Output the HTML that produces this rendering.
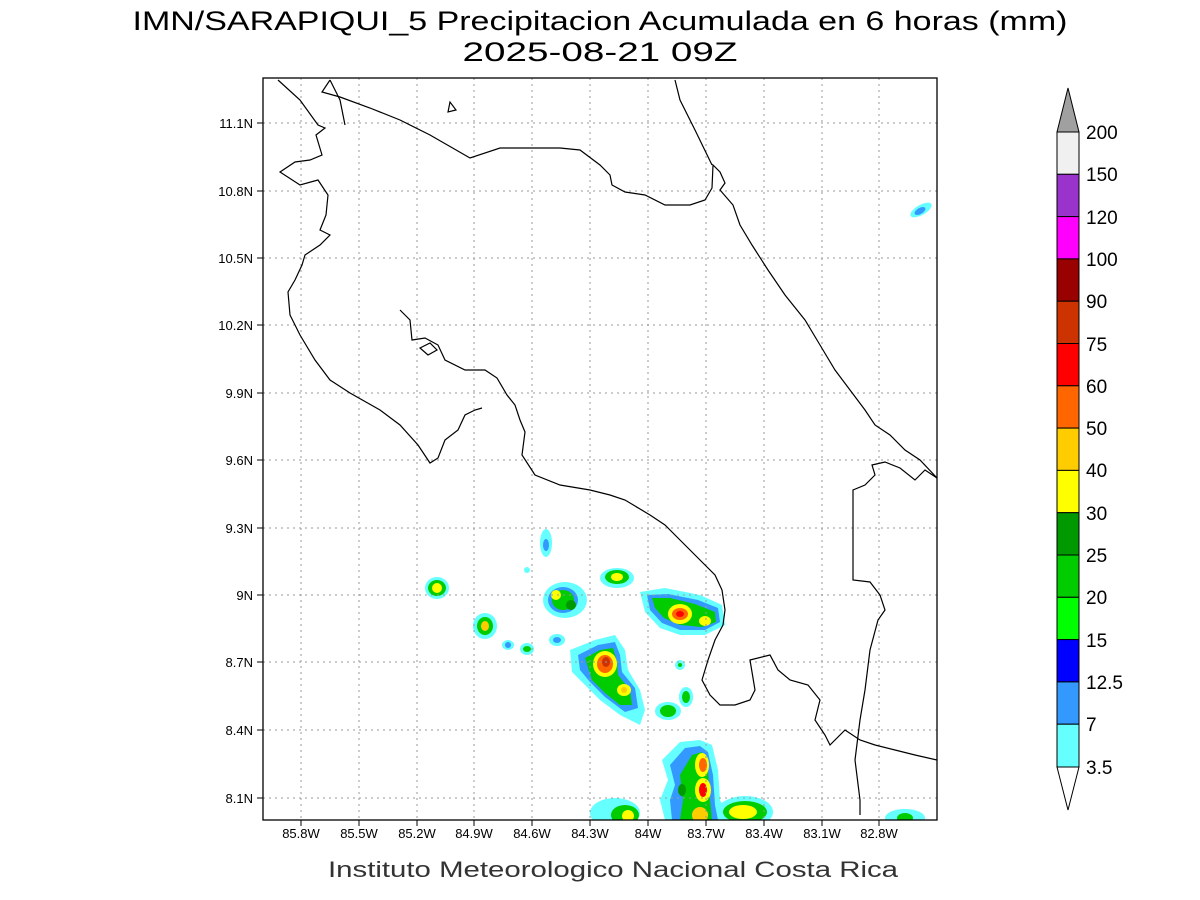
<!DOCTYPE html>
<html><head><style>
body{margin:0;background:#fff;}
svg{display:block;font-family:"Liberation Sans",sans-serif;}
</style></head><body>
<svg width="1200" height="900" viewBox="0 0 1200 900" xmlns="http://www.w3.org/2000/svg">
<rect width="1200" height="900" fill="#fff"/>
<text x="600" y="30" font-size="27" text-anchor="middle" fill="#000" textLength="935" lengthAdjust="spacingAndGlyphs">IMN/SARAPIQUI_5 Precipitacion Acumulada en 6 horas (mm)</text>
<text x="600" y="61" font-size="27" text-anchor="middle" fill="#000" textLength="275" lengthAdjust="spacingAndGlyphs">2025-08-21 09Z</text>
<defs><clipPath id="c"><rect x="263" y="78" width="674" height="742"/></clipPath></defs>
<g clip-path="url(#c)">
<g>
<ellipse cx="437" cy="588" rx="12" ry="11" fill="#66ffff"/><ellipse cx="437" cy="588" rx="9" ry="8" fill="#00cc00"/><ellipse cx="437" cy="588" rx="5" ry="5" fill="#ffff00"/>
<ellipse cx="485" cy="626" rx="12" ry="13" fill="#66ffff"/><ellipse cx="485" cy="626" rx="8" ry="9" fill="#00cc00"/><ellipse cx="485" cy="626" rx="4" ry="5" fill="#ffcc00"/>
<ellipse cx="508" cy="645" rx="6" ry="5" fill="#66ffff"/><ellipse cx="508" cy="645" rx="3" ry="3" fill="#3399ff"/>
<ellipse cx="527" cy="649" rx="7" ry="6" fill="#66ffff"/><ellipse cx="527" cy="649" rx="4" ry="3" fill="#00cc00"/>
<ellipse cx="546" cy="543" rx="6" ry="14" fill="#66ffff"/><ellipse cx="546" cy="545" rx="3" ry="6" fill="#3399ff"/>
<ellipse cx="527" cy="570" rx="3" ry="3" fill="#66ffff"/>
<ellipse cx="565" cy="600" rx="22" ry="18" fill="#66ffff"/><ellipse cx="563" cy="600" rx="15" ry="13" fill="#3399ff"/><ellipse cx="563" cy="600" rx="11" ry="10" fill="#00cc00"/><ellipse cx="556" cy="595" rx="5" ry="5" fill="#ffff00"/><ellipse cx="571" cy="605" rx="5" ry="5" fill="#009900"/>
<ellipse cx="557" cy="640" rx="8" ry="6" fill="#66ffff"/><ellipse cx="557" cy="640" rx="4" ry="3" fill="#3399ff"/>
<polygon points="570,650 595,640 615,635 625,650 628,670 640,690 645,710 640,725 620,715 600,700 585,685 572,672" fill="#66ffff"/>
<polygon points="578,655 598,645 615,642 620,655 622,672 635,688 638,708 625,712 605,697 590,682 580,670" fill="#3399ff"/>
<polygon points="585,658 600,650 613,648 617,662 618,675 630,690 632,705 620,705 605,693 592,680" fill="#00cc00"/>
<ellipse cx="605" cy="664" rx="12" ry="13" fill="#ffff00"/><ellipse cx="605" cy="664" rx="8" ry="9" fill="#ff6600"/><ellipse cx="606" cy="662" rx="4" ry="5" fill="#cc3300"/>
<ellipse cx="624" cy="690" rx="7" ry="6" fill="#ffff00"/><ellipse cx="624" cy="690" rx="3" ry="3" fill="#ffcc00"/>
<ellipse cx="617" cy="578" rx="17" ry="10" fill="#66ffff"/><ellipse cx="617" cy="577" rx="12" ry="7" fill="#00cc00"/><ellipse cx="617" cy="577" rx="6" ry="4" fill="#ffff00"/>
<polygon points="640,592 665,588 700,595 722,605 725,625 705,635 680,635 660,628 645,612" fill="#66ffff"/>
<polygon points="647,595 668,594 698,600 718,608 720,622 705,630 680,630 662,623 650,610" fill="#3399ff"/>
<polygon points="652,598 670,598 695,604 715,612 716,622 702,627 680,625 664,618 655,608" fill="#00cc00"/>
<ellipse cx="680" cy="614" rx="12" ry="10" fill="#ffff00"/><ellipse cx="680" cy="614" rx="8" ry="6" fill="#ff6600"/><ellipse cx="680" cy="614" rx="4" ry="3" fill="#ff0000"/>
<ellipse cx="705" cy="621" rx="6" ry="5" fill="#ffff00"/>
<ellipse cx="680" cy="665" rx="5" ry="5" fill="#66ffff"/><ellipse cx="680" cy="665" rx="2" ry="2" fill="#00cc00"/>
<ellipse cx="686" cy="697" rx="7" ry="10" fill="#66ffff"/><ellipse cx="686" cy="697" rx="4" ry="6" fill="#00cc00"/>
<ellipse cx="668" cy="711" rx="13" ry="9" fill="#66ffff"/><ellipse cx="668" cy="711" rx="8" ry="6" fill="#00cc00"/>
<polygon points="662,760 680,742 700,740 712,745 718,770 720,800 730,820 665,820 660,800 668,780" fill="#66ffff"/>
<polygon points="670,765 685,748 700,746 708,752 713,775 715,805 718,820 672,820 670,800 675,785" fill="#3399ff"/>
<polygon points="680,775 692,755 702,752 708,770 710,800 712,820 680,820 683,800" fill="#00cc00"/>
<ellipse cx="702" cy="765" rx="7" ry="12" fill="#ffff00"/><ellipse cx="703" cy="765" rx="4" ry="7" fill="#ff6600"/>
<ellipse cx="703" cy="790" rx="8" ry="12" fill="#ffff00"/><ellipse cx="703" cy="790" rx="4" ry="7" fill="#ff0000"/>
<ellipse cx="700" cy="815" rx="8" ry="8" fill="#ffcc00"/>
<ellipse cx="682" cy="790" rx="4" ry="6" fill="#009900"/>
<ellipse cx="745" cy="812" rx="28" ry="16" fill="#66ffff"/><ellipse cx="745" cy="812" rx="22" ry="11" fill="#00cc00"/><ellipse cx="743" cy="812" rx="14" ry="7" fill="#ffff00"/>
<ellipse cx="615" cy="813" rx="25" ry="15" fill="#66ffff"/><ellipse cx="625" cy="815" rx="14" ry="10" fill="#00cc00"/><ellipse cx="628" cy="816" rx="6" ry="6" fill="#ffff00"/>
<ellipse cx="905" cy="818" rx="20" ry="9" fill="#66ffff"/><ellipse cx="905" cy="818" rx="8" ry="5" fill="#00cc00"/>
<ellipse cx="921" cy="210" rx="12" ry="5" fill="#66ffff" transform="rotate(-30 921 210)"/><ellipse cx="920" cy="211" rx="6" ry="3" fill="#3399ff" transform="rotate(-30 920 211)"/>
</g>
<g stroke="#999" stroke-width="1" stroke-dasharray="2,4">
<line x1="301" y1="78" x2="301" y2="820"/><line x1="359" y1="78" x2="359" y2="820"/><line x1="417" y1="78" x2="417" y2="820"/><line x1="474" y1="78" x2="474" y2="820"/><line x1="532" y1="78" x2="532" y2="820"/><line x1="590" y1="78" x2="590" y2="820"/><line x1="648" y1="78" x2="648" y2="820"/><line x1="706" y1="78" x2="706" y2="820"/><line x1="764" y1="78" x2="764" y2="820"/><line x1="822" y1="78" x2="822" y2="820"/><line x1="879" y1="78" x2="879" y2="820"/>
<line x1="263" y1="123" x2="937" y2="123"/><line x1="263" y1="191" x2="937" y2="191"/><line x1="263" y1="258" x2="937" y2="258"/><line x1="263" y1="325" x2="937" y2="325"/><line x1="263" y1="393" x2="937" y2="393"/><line x1="263" y1="460" x2="937" y2="460"/><line x1="263" y1="528" x2="937" y2="528"/><line x1="263" y1="595" x2="937" y2="595"/><line x1="263" y1="662" x2="937" y2="662"/><line x1="263" y1="730" x2="937" y2="730"/><line x1="263" y1="798" x2="937" y2="798"/>
</g>
<g fill="none" stroke="#000" stroke-width="1.2">
<polyline points="278,80 300,100 318,125 325,128 316,135 322,155 310,160 295,162 280,172 300,185 318,180 328,195 326,215 320,230 330,235 320,245 305,255 302,265 295,280 288,292 290,315 300,335 315,360 330,380 350,393 380,410 400,425 418,445 430,463 438,458 445,440 458,430 465,415 475,410 482,408"/>
<polyline points="400,310 410,320 412,340 425,338 438,345 445,360 465,370 485,370 497,378 507,395 515,405 520,420 525,432 522,455 535,475 560,485 590,490 610,495 625,500 650,515 665,525 680,540 695,555 705,565 715,575 722,590 725,610 723,625 715,640 708,660 702,680 710,695 720,705 735,705 750,700 755,690 750,660 770,655 778,670 790,680 808,685 820,700 815,720 825,735 830,745 845,730 860,740 875,745 895,750 915,755 937,760"/>
<polyline points="330,80 322,92 340,97 370,108 400,120 430,135 470,158 500,148 530,148 560,148 580,150 600,165 610,175 612,185 625,192 645,195 665,205 690,205 705,200 712,188 713,165 720,172 725,183 720,190 733,205 740,225 752,245 768,270 785,295 805,320 820,345 835,370 850,390 865,410 875,425 890,435 905,450 920,460 937,478"/>
<polyline points="675,80 680,100 695,130 712,165"/>
<polyline points="937,478 925,470 915,480 900,468 885,462 872,465 875,475 865,485 853,490 853,580 870,582 880,595 885,610 878,620 870,650 865,690 860,720 855,760 860,800 860,815"/>
<polyline points="330,80 340,100 345,125"/>
<polygon points="420,348 430,343 437,350 428,355"/>
<polygon points="448,112 450,102 456,110"/>
</g>
</g>
<rect x="263" y="78" width="674" height="742" fill="none" stroke="#000" stroke-width="1.3"/>
<g font-size="13" fill="#000" text-anchor="middle">
<text x="301" y="838">85.8W</text><text x="359" y="838">85.5W</text><text x="417" y="838">85.2W</text><text x="474" y="838">84.9W</text><text x="532" y="838">84.6W</text><text x="590" y="838">84.3W</text><text x="648" y="838">84W</text><text x="706" y="838">83.7W</text><text x="764" y="838">83.4W</text><text x="822" y="838">83.1W</text><text x="879" y="838">82.8W</text>
</g>
<g font-size="13" fill="#000" text-anchor="end">
<text x="253" y="128">11.1N</text><text x="253" y="196">10.8N</text><text x="253" y="263">10.5N</text><text x="253" y="330">10.2N</text><text x="253" y="398">9.9N</text><text x="253" y="465">9.6N</text><text x="253" y="533">9.3N</text><text x="253" y="600">9N</text><text x="253" y="667">8.7N</text><text x="253" y="735">8.4N</text><text x="253" y="803">8.1N</text>
</g>
<g stroke="#000" stroke-width="1">
<line x1="301" y1="820" x2="301" y2="826"/><line x1="359" y1="820" x2="359" y2="826"/><line x1="417" y1="820" x2="417" y2="826"/><line x1="474" y1="820" x2="474" y2="826"/><line x1="532" y1="820" x2="532" y2="826"/><line x1="590" y1="820" x2="590" y2="826"/><line x1="648" y1="820" x2="648" y2="826"/><line x1="706" y1="820" x2="706" y2="826"/><line x1="764" y1="820" x2="764" y2="826"/><line x1="822" y1="820" x2="822" y2="826"/><line x1="879" y1="820" x2="879" y2="826"/>
<line x1="257" y1="123" x2="263" y2="123"/><line x1="257" y1="191" x2="263" y2="191"/><line x1="257" y1="258" x2="263" y2="258"/><line x1="257" y1="325" x2="263" y2="325"/><line x1="257" y1="393" x2="263" y2="393"/><line x1="257" y1="460" x2="263" y2="460"/><line x1="257" y1="528" x2="263" y2="528"/><line x1="257" y1="595" x2="263" y2="595"/><line x1="257" y1="662" x2="263" y2="662"/><line x1="257" y1="730" x2="263" y2="730"/><line x1="257" y1="798" x2="263" y2="798"/>
</g>
<text x="613" y="877" font-size="22" text-anchor="middle" fill="#333" textLength="570" lengthAdjust="spacingAndGlyphs">Instituto Meteorologico Nacional Costa Rica</text>
<g stroke="#000" stroke-width="1">
<polygon points="1057,132 1079,132 1068,88" fill="#a0a0a0"/>
<rect x="1057" y="132" width="22" height="42.3" fill="#f0f0f0"/>
<rect x="1057" y="174.3" width="22" height="42.3" fill="#9933cc"/>
<rect x="1057" y="216.6" width="22" height="42.3" fill="#ff00ff"/>
<rect x="1057" y="258.9" width="22" height="42.3" fill="#990000"/>
<rect x="1057" y="301.2" width="22" height="42.3" fill="#cc3300"/>
<rect x="1057" y="343.5" width="22" height="42.3" fill="#ff0000"/>
<rect x="1057" y="385.8" width="22" height="42.3" fill="#ff6600"/>
<rect x="1057" y="428.1" width="22" height="42.3" fill="#ffcc00"/>
<rect x="1057" y="470.4" width="22" height="42.3" fill="#ffff00"/>
<rect x="1057" y="512.7" width="22" height="42.3" fill="#009900"/>
<rect x="1057" y="555" width="22" height="42.3" fill="#00cc00"/>
<rect x="1057" y="597.3" width="22" height="42.3" fill="#00ff00"/>
<rect x="1057" y="639.6" width="22" height="42.3" fill="#0000ff"/>
<rect x="1057" y="681.9" width="22" height="42.3" fill="#3399ff"/>
<rect x="1057" y="724.2" width="22" height="42.8" fill="#66ffff"/>
<polygon points="1057,767 1079,767 1068,810" fill="#fff"/>
</g>
<g font-size="19" fill="#000">
<text x="1086" y="139">200</text><text x="1086" y="181">150</text><text x="1086" y="224">120</text><text x="1086" y="266">100</text><text x="1086" y="308">90</text><text x="1086" y="351">75</text><text x="1086" y="393">60</text><text x="1086" y="435">50</text><text x="1086" y="477">40</text><text x="1086" y="520">30</text><text x="1086" y="562">25</text><text x="1086" y="604">20</text><text x="1086" y="647">15</text><text x="1086" y="689">12.5</text><text x="1086" y="731">7</text><text x="1086" y="774">3.5</text>
</g>
</svg>
</body></html>
